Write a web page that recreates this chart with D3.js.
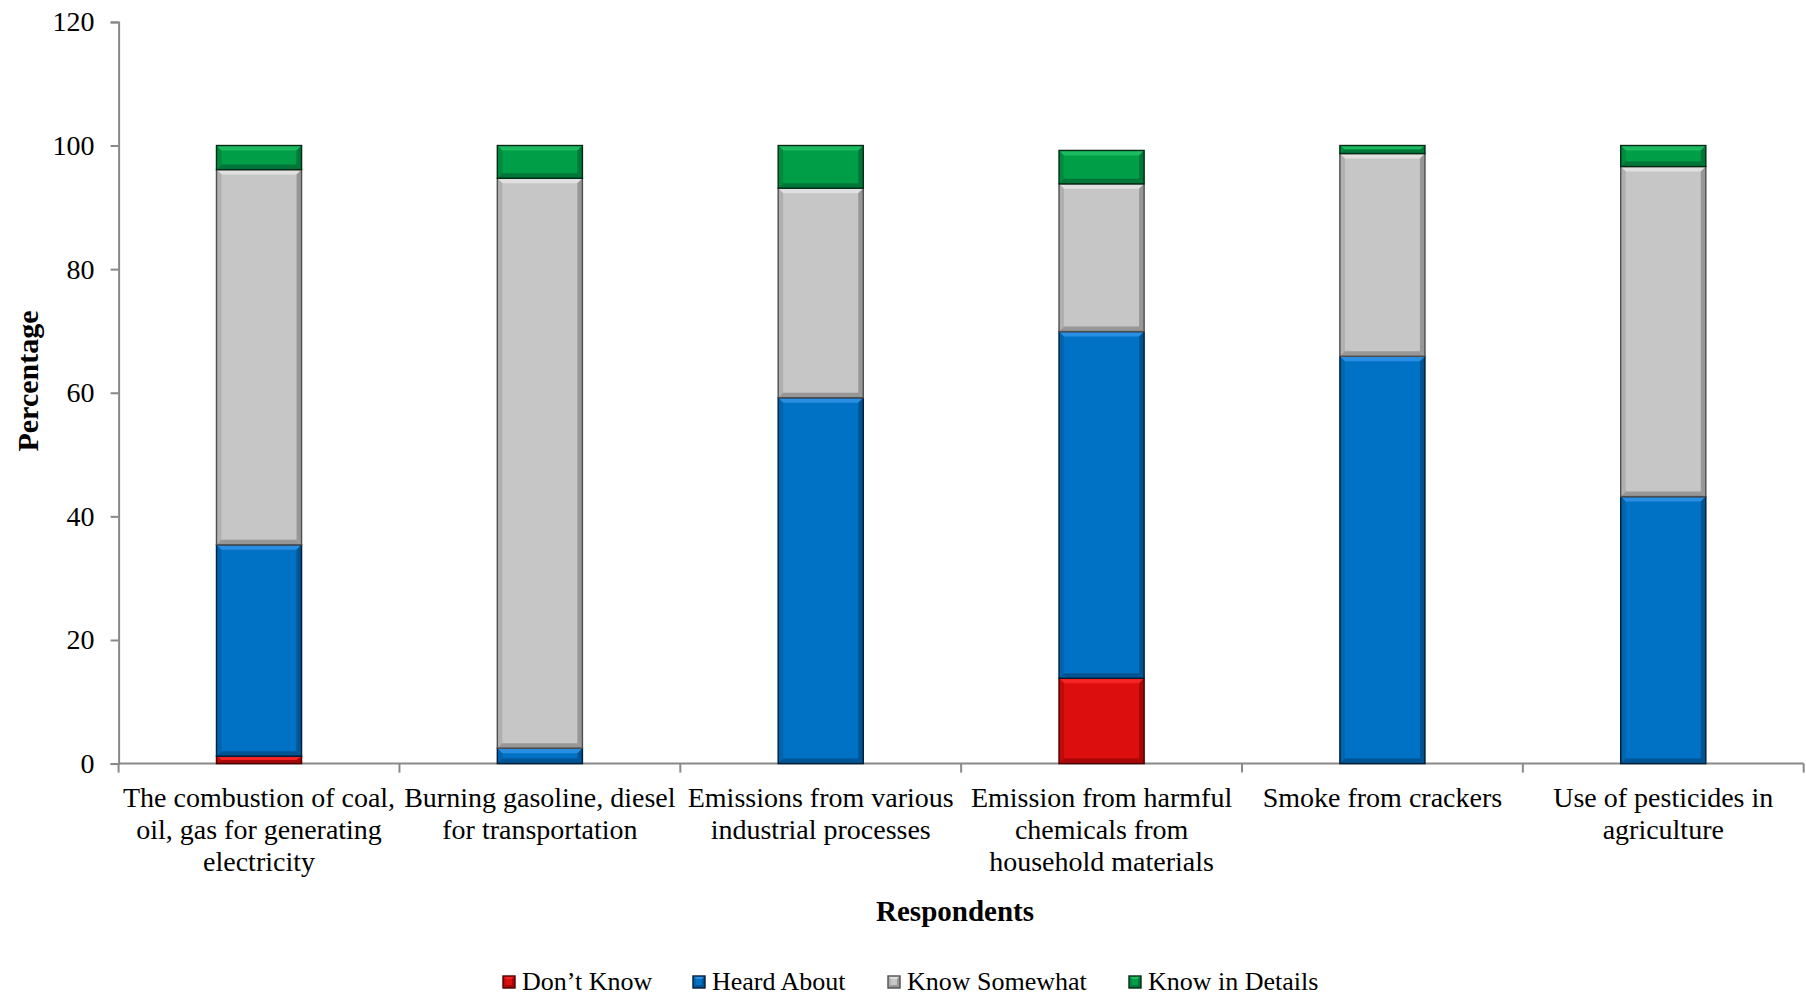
<!DOCTYPE html>
<html>
<head>
<meta charset="utf-8">
<script src="https://cdn.jsdelivr.net/npm/d3@7"></script>
<style>
  html, body { margin: 0; padding: 0; background: #fff; }
  svg { display: block; }
  text { font-family: "Liberation Serif", "Times New Roman", serif; fill: #000; }
</style>
</head>
<body>
<svg id="chart" width="1806" height="997"></svg>
<script>
// Sources of air pollution and how well respondents know them (percent)
const categories = [
  "The combustion of coal, oil, gas for generating electricity",
  "Burning gasoline, diesel for transportation",
  "Emissions from various industrial processes",
  "Emission from harmful chemicals from household materials",
  "Smoke from crackers",
  "Use of pesticides in agriculture"
];
const categoryLines = [
  ["The combustion of coal,", "oil, gas for generating", "electricity"],
  ["Burning gasoline, diesel", "for transportation"],
  ["Emissions from various", "industrial processes"],
  ["Emission from harmful", "chemicals from", "household materials"],
  ["Smoke from crackers"],
  ["Use of pesticides in", "agriculture"]
];
const seriesNames = ["Don\u2019t Know", "Heard About", "Know Somewhat", "Know in Details"];
const dontKnow       = [1.2, 0.0, 0.0, 13.8, 0.0, 0.0];
const heardAbout     = [34.2, 2.5, 59.2, 56.1, 65.9, 43.2];
const knowSomewhat   = [60.7, 92.2, 33.9, 23.9, 32.8, 53.4];
const knowInDetails  = [3.9, 5.3, 6.9, 5.4, 1.3, 3.4];
const yTicks = [0, 20, 40, 60, 80, 100, 120];

const seriesValues = [dontKnow, heardAbout, knowSomewhat, knowInDetails];
const palette = {
  base:  ["#DD0E0E", "#0072C6", "#C6C6C6", "#009E47"],
  light: ["#F52424", "#2A8FE2", "#E0E0E0", "#1DBB61"],
  dark:  ["#9E0606", "#004F8A", "#8E8E8E", "#006E37"],
  edge:  ["#4A0000", "#001C36", "#4E4E4E", "#002A15"]
};

const rows = categories.map((c, i) => {
  const r = { category: c };
  seriesNames.forEach((s, k) => { r[s] = seriesValues[k][i]; });
  return r;
});

const svg = d3.select("#chart");
const serif = "'Liberation Serif','Times New Roman',serif";
const plotLeft = 118.6, plotRight = 1803.7, plotTop = 21.9, plotBottom = 763.6;

const pad = 0.697;
const x = d3.scaleBand()
  .domain(categories)
  .range([plotLeft, plotRight])
  .paddingInner(pad)
  .paddingOuter(pad / 2);
const y = d3.scaleLinear().domain([0, 120]).range([plotBottom, plotTop]);

const stacked = d3.stack().keys(seriesNames)(rows);

// Beveled block, in the manner of an office chart bevel effect
function bevel(g, bx, by, w, h, k, bv, bh) {
  const vb = Math.min(bv, h / 2), hb = Math.min(bh, w / 2);
  g.append("rect").attr("x", bx).attr("y", by).attr("width", w).attr("height", h)
    .attr("fill", palette.base[k]);
  const poly = (pts, fill, op) => g.append("polygon")
    .attr("points", pts.map(p => p.join(",")).join(" "))
    .attr("fill", fill).attr("opacity", op);
  poly([[bx, by], [bx + w, by], [bx + w - hb, by + vb], [bx + hb, by + vb]], palette.light[k], 1);
  poly([[bx, by + h], [bx + w, by + h], [bx + w - hb, by + h - vb], [bx + hb, by + h - vb]], palette.dark[k], 0.85);
  poly([[bx, by], [bx + hb, by + vb], [bx + hb, by + h - vb], [bx, by + h]], palette.dark[k], 0.4);
  poly([[bx + w, by], [bx + w - hb, by + vb], [bx + w - hb, by + h - vb], [bx + w, by + h]], palette.dark[k], 0.85);
  g.append("rect").attr("x", bx).attr("y", by).attr("width", w).attr("height", h)
    .attr("fill", "none").attr("stroke", palette.edge[k]).attr("stroke-width", 1.4);
}

// Axes
const axisColor = "#898989";
const yAxis = svg.append("g").attr("transform", `translate(${plotLeft},0)`)
  .call(d3.axisLeft(y).tickValues(yTicks).tickSize(8).tickPadding(16));
yAxis.attr("font-family", serif);
yAxis.select(".domain").attr("stroke", axisColor).attr("stroke-width", 2);
yAxis.selectAll(".tick line").attr("stroke", axisColor).attr("stroke-width", 2);
yAxis.selectAll(".tick text").attr("font-size", 28)
  .attr("font-family", serif).attr("fill", "#000");

// Category axis: baseline plus boundary ticks between groups
const boundaries = d3.range(categories.length + 1).map(i => plotLeft + i * x.step());
svg.append("line").attr("x1", plotLeft).attr("x2", plotRight).attr("y1", y(0)).attr("y2", y(0))
  .attr("stroke", axisColor).attr("stroke-width", 2);
svg.selectAll(".xtick").data(boundaries).join("line").attr("class", "xtick")
  .attr("x1", d => d).attr("x2", d => d).attr("y1", y(0)).attr("y2", y(0) + 9)
  .attr("stroke", axisColor).attr("stroke-width", 2);

// Stacked bars
const barsG = svg.append("g");
stacked.forEach((layer, k) => {
  layer.forEach((d, i) => {
    const h = y(d[0]) - y(d[1]);
    if (h <= 0.01) return;
    bevel(barsG.append("g"), x(categories[i]), y(d[1]), x.bandwidth(), h, k, 5, 5);
  });
});

// Category labels
const labelG = svg.append("g");
categories.forEach((c, i) => {
  const cx = x(c) + x.bandwidth() / 2;
  const t = labelG.append("text")
    .attr("x", cx)
    .attr("y", 807)
    .attr("text-anchor", "middle")
    .attr("font-size", 28);
  categoryLines[i].forEach((line, j) => {
    t.append("tspan").attr("x", cx).attr("dy", j === 0 ? 0 : 32.2).text(line);
  });
});

// Axis titles
svg.append("text")
  .attr("transform", `translate(38,381) rotate(-90)`)
  .attr("text-anchor", "middle").attr("font-size", 30).attr("font-weight", "bold")
  .text("Percentage");
svg.append("text")
  .attr("x", 955).attr("y", 921)
  .attr("text-anchor", "middle").attr("font-size", 29).attr("font-weight", "bold")
  .text("Respondents");

// Legend
const legendX = [503, 693, 888, 1129];
const legend = svg.append("g");
seriesNames.forEach((s, k) => {
  const g = legend.append("g");
  bevel(g, legendX[k], 976, 12, 12, k, 3, 3);
  g.append("text").attr("x", legendX[k] + 19).attr("y", 990)
    .attr("font-size", 26).text(s);
});
</script>
</body>
</html>
